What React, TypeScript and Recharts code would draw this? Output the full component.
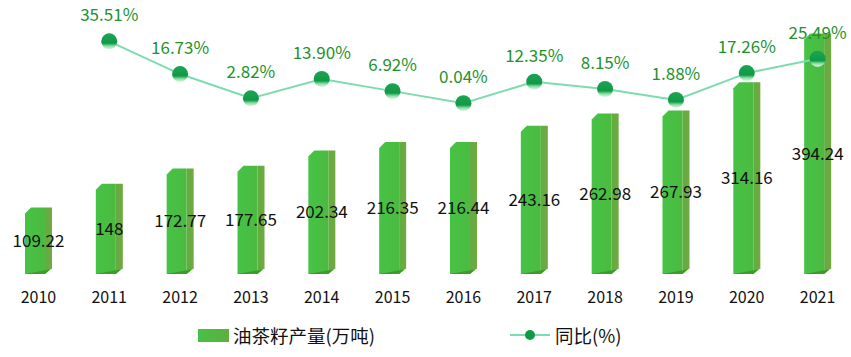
import { ComposedChart, Bar, Line, XAxis, YAxis, LabelList } from "recharts";

const YEARS = ["2010", "2011", "2012", "2013", "2014", "2015", "2016", "2017", "2018", "2019", "2020", "2021"];
const OUTPUT = [109.22, 148, 172.77, 177.65, 202.34, 216.35, 216.44, 243.16, 262.98, 267.93, 314.16, 394.24];
const YOY = [null, 35.51, 16.73, 2.82, 13.9, 6.92, 0.04, 12.35, 8.15, 1.88, 17.26, 25.49];

const data = YEARS.map((year, i) => ({ year, output: OUTPUT[i], yoy: YOY[i] }));

const FONT = '"Noto Sans CJK SC", "Noto Sans", sans-serif';

// pseudo-3D bar: bevelled front face + darker right side
function Bar3D(props: any) {
  const { x, y, width, height } = props;
  if (!height || height <= 0) return null;
  const fw = width * 0.74;
  const b = 6;
  return (
    <g>
      <polygon
        points={`${x},${y + b} ${x + b},${y} ${x + fw},${y} ${x + fw},${y + height} ${x},${y + height}`}
        fill="url(#barFront)"
      />
      <polygon
        points={`${x + fw},${y} ${x + width},${y} ${x + width},${y + height - b} ${x + fw},${y + height}`}
        fill="url(#barSide)"
      />
      <polygon
        points={`${x},${y + height} ${x + fw},${y + height} ${x + width},${y + height - b} ${x + width},${y + height - b + 1}`}
        fill="#3f9a2e"
      />
    </g>
  );
}

function Dot(props: any) {
  const { cx, cy, value } = props;
  if (value == null || cx == null || cy == null) return null;
  return <circle cx={cx} cy={cy} r={8} fill="url(#dotFill)" />;
}

export default function App() {
  return (
    <div style={{ position: "absolute", left: 0, top: 0, width: 851, height: 357, background: "#fff", fontFamily: FONT }}>
      <ComposedChart
        width={851}
        height={357}
        data={data}
        margin={{ top: 30, right: -2, bottom: 0, left: 3 }}
      >
        <defs>
          <linearGradient id="barFront" x1="0" y1="0" x2="1" y2="0">
            <stop offset="0%" stopColor="#45c345" />
            <stop offset="100%" stopColor="#4cba40" />
          </linearGradient>
          <linearGradient id="barSide" x1="0" y1="0" x2="1" y2="0">
            <stop offset="0%" stopColor="#5fae40" />
            <stop offset="100%" stopColor="#72a842" />
          </linearGradient>
          <linearGradient id="dotFill" x1="0" y1="0" x2="0" y2="1">
            <stop offset="0%" stopColor="#1ea452" />
            <stop offset="62%" stopColor="#0f9a46" />
            <stop offset="80%" stopColor="#8fdca8" />
            <stop offset="100%" stopColor="#e2f8e6" />
          </linearGradient>
        </defs>
        <XAxis
          dataKey="year"
          axisLine={false}
          tickLine={false}
          height={83}
          tickMargin={12}
          tick={{ fontSize: 16, fill: "#111", fontFamily: FONT }}
          interval={0}
        />
        <YAxis yAxisId="left" hide domain={[0, 400]} />
        <YAxis yAxisId="right" hide orientation="right" domain={[-98, 42]} />
        <Bar yAxisId="left" dataKey="output" barSize={27} shape={<Bar3D />} isAnimationActive={false}>
          <LabelList dataKey="output" position="center" fill="#111" fontSize={17} fontFamily={FONT} />
        </Bar>
        <Line
          yAxisId="right"
          dataKey="yoy"
          stroke="#7ddcae"
          strokeWidth={2}
          dot={<Dot />}
          activeDot={false}
          connectNulls={false}
          isAnimationActive={false}
        >
          <LabelList
            dataKey="yoy"
            position="top"
            offset={20}
            fill="#23922c"
            fontSize={17}
            fontFamily={FONT}
            formatter={(v: any) => (v == null ? "" : `${Number(v).toFixed(2)}%`)}
          />
        </Line>
      </ComposedChart>
      <div style={{ position: "absolute", top: 322, left: 198, display: "flex", alignItems: "center", fontSize: 18.5, color: "#111" }}>
        <span style={{ display: "inline-block", width: 31, height: 13, background: "linear-gradient(90deg,#45c245,#5fae40)", marginRight: 4 }} />
        油茶籽产量(万吨)
      </div>
      <div style={{ position: "absolute", top: 322, left: 510, display: "flex", alignItems: "center", fontSize: 18.5, color: "#111" }}>
        <svg width={40} height={14} style={{ marginRight: 5 }}>
          <line x1={0} y1={7} x2={40} y2={7} stroke="#7ddcae" strokeWidth={2} />
          <circle cx={20} cy={7} r={5} fill="#0f9a46" />
        </svg>
        同比(%)
      </div>
    </div>
  );
}
